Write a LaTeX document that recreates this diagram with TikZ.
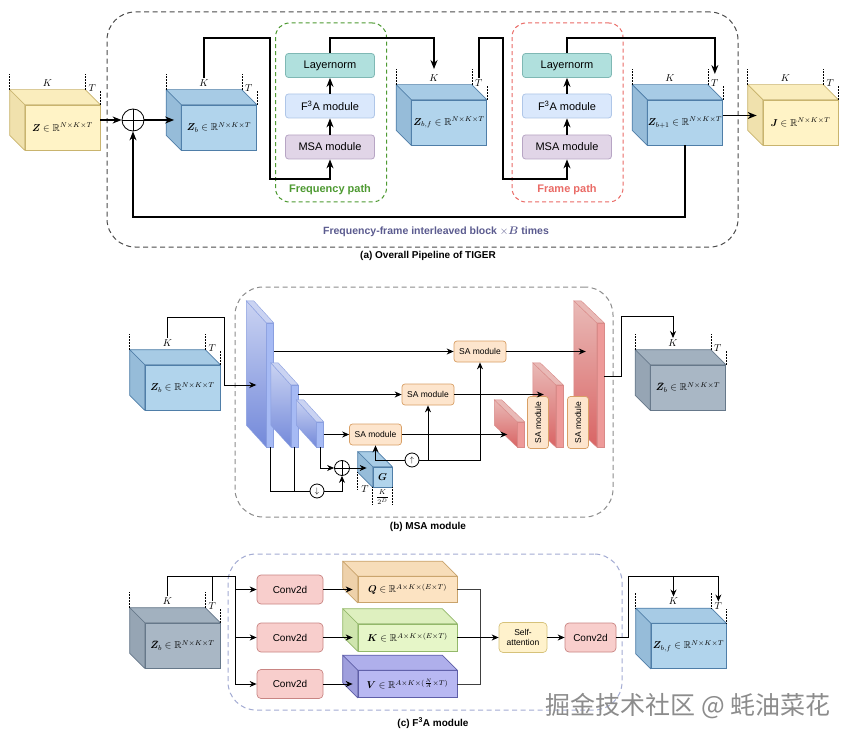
\documentclass[tikz,border=0pt]{standalone}
\usepackage{fontspec}
\setmainfont{Liberation Sans}
\newfontfamily\cjkfont{Noto Sans CJK SC}
\usepackage{amsmath,amssymb,bm}
\usepackage{tikz}
\usetikzlibrary{arrows.meta, calc, positioning, shapes.geometric, fit}
\usepackage{xcolor}

\definecolor{cubeblue}{HTML}{B1D4EC}
\definecolor{cubeblueline}{HTML}{4F7EA8}
\definecolor{cubeyellow}{HTML}{FFF3C6}
\definecolor{cubeyellowline}{HTML}{C9B46E}
\definecolor{cubegray}{HTML}{A9B7C5}
\definecolor{cubegrayline}{HTML}{66788A}
\definecolor{cubeorange}{HTML}{FCE3C2}
\definecolor{cubeorangeline}{HTML}{C9A36B}
\definecolor{cubegreen}{HTML}{E6F6C8}
\definecolor{cubegreenline}{HTML}{93B86A}
\definecolor{cubepurple}{HTML}{B8B8F2}
\definecolor{cubepurpleline}{HTML}{5E5EA8}
\definecolor{slabbluelight}{HTML}{CAD3F2}
\definecolor{slabbluedark}{HTML}{7389DA}
\definecolor{slabbluefront}{HTML}{A6BAF4}
\definecolor{slabblueline}{HTML}{8A9FE0}
\definecolor{slabredlight}{HTML}{E9BAB7}
\definecolor{slabreddark}{HTML}{D96464}
\definecolor{slabredfront}{HTML}{EE9A99}
\definecolor{slabredline}{HTML}{D98A88}
\definecolor{lnteal}{HTML}{B0E0DD}
\definecolor{lntealline}{HTML}{7FB8B4}
\definecolor{fablue}{HTML}{DAE8FC}
\definecolor{fablueline}{HTML}{AFC6E8}
\definecolor{msapurple}{HTML}{E1D5E7}
\definecolor{msapurpleline}{HTML}{B7A5C4}
\definecolor{safill}{HTML}{FDE5CD}
\definecolor{saline}{HTML}{D9A066}
\definecolor{convfill}{HTML}{F8CECC}
\definecolor{convline}{HTML}{C98583}
\definecolor{attfill}{HTML}{FFF2CC}
\definecolor{attline}{HTML}{D6C27A}
\definecolor{freqgreen}{HTML}{4E9A32}
\definecolor{framered}{HTML}{EA6B66}
\definecolor{blocktext}{HTML}{5B5B8F}
\definecolor{f3aline}{HTML}{A3ABD3}

\tikzset{
  line/.style={black, line width=0.9pt},
  arr/.style={line, -{Stealth[length=7pt, width=6pt]}},
  bigarr/.style={black, line width=1.3pt, -{Stealth[length=9pt, width=7pt]}},
  dimline/.style={black, densely dotted, line width=0.5pt},
  dimlab/.style={inner sep=1pt, font=\fontsize{10}{12}\selectfont},
  cubefront/.style={draw, line width=0.7pt, inner sep=0pt, font=\fontsize{10}{12}\selectfont},
  module/.style={draw, rounded corners=3pt, line width=0.8pt, minimum width=89pt,
    minimum height=24pt, inner sep=0pt, font=\fontsize{11}{13}\selectfont},
  samod/.style={draw=saline, fill=safill, rounded corners=3pt, line width=0.7pt,
    minimum width=52pt, minimum height=21pt, inner sep=0pt, font=\fontsize{8.5}{10}\selectfont},
  convmod/.style={draw=convline, fill=convfill, rounded corners=4pt, line width=0.7pt,
    minimum width=66pt, minimum height=29pt, inner sep=0pt, font=\fontsize{10}{12}\selectfont},
  attmod/.style={draw=attline, fill=attfill, rounded corners=4pt, line width=0.7pt,
    minimum width=48pt, minimum height=30pt, inner sep=0pt, align=center,
    font=\fontsize{8.5}{10}\selectfont},
  addop/.style={circle, draw, line width=0.8pt, minimum size=22pt, inner sep=0pt,
    path picture={\draw[line width=0.6pt] (path picture bounding box.north) -- (path picture bounding box.south)
      (path picture bounding box.west) -- (path picture bounding box.east);}},
  sampleop/.style={circle, draw, line width=0.8pt, minimum size=14pt, inner sep=0pt,
    font=\fontsize{8}{8}\selectfont},
  pipebox/.style={draw=black!70, dash pattern=on 5pt off 3.5pt, line width=1pt,
    rounded corners=28pt, minimum width=631pt, minimum height=235pt},
  pathbox/.style={dash pattern=on 4pt off 3pt, line width=1pt, rounded corners=14pt,
    minimum width=111pt, minimum height=179pt},
  pathlabel/.style={font=\bfseries\fontsize{11}{13}\selectfont, inner sep=0pt},
  caption/.style={font=\bfseries\fontsize{10}{12}\selectfont, inner sep=0pt},
  blueface/.style={fill=slabbluefront, draw=slabblueline},
  blueside/.style={top color=slabbluelight, bottom color=slabbluedark, draw=slabblueline},
  bluetop/.style={fill=slabbluelight, draw=slabblueline},
  redface/.style={fill=slabredfront, draw=slabredline},
  redside/.style={top color=slabredlight, bottom color=slabreddark, draw=slabredline},
  redtop/.style={fill=slabredlight, draw=slabredline},
  slabfront/.style={minimum width=7pt, inner sep=0pt, line width=0.4pt}
}

% cube: name, front-face centre, width, height, colour, label
\newcommand{\tcube}[6]{%
  \node[cubefront, fill=#5, draw=#5line, minimum width=#3, minimum height=#4] (#1) at (#2) {#6};
  \filldraw[fill=#5!90!#5line, draw=#5line, line width=0.7pt, line join=round]
    (#1.north west) -- ([shift={(-15,-15)}]#1.north west) -- ([shift={(-15,-15)}]#1.north east) -- (#1.north east) -- cycle;
  \filldraw[fill=#5!72!#5line, draw=#5line, line width=0.7pt, line join=round]
    (#1.north west) -- ([shift={(-15,-15)}]#1.north west) -- ([shift={(-15,-15)}]#1.south west) -- (#1.south west) -- cycle;
}
% dotted K and T marks above a cube
\newcommand{\tdims}[1]{%
  \draw[dimline] ([shift={(-15,-15)}]#1.north west) -- ++(0,-16);
  \draw[dimline] ([shift={(-15,-15)}]#1.north east) -- ++(0,-16);
  \draw[dimline] (#1.north east) -- ++(0,-15);
  \node[dimlab] (#1k) at ([shift={(-15,-22)}]#1.north) {$K$};
  \node[dimlab] (#1t) at ([shift={(-8,-17)}]#1.north east) {$T$};
}
% slab: name, front-face centre, height, colour, depth
\newcommand{\tslab}[5]{%
  \node[slabfront, #4face, minimum height=#3] (#1) at (#2) {};
  \path[#4side, line width=0.4pt] (#1.north west) -- ([shift={(#5)}]#1.north west)
    -- ([shift={(#5)}]#1.south west) -- (#1.south west) -- cycle;
  \path[#4top, line width=0.4pt] (#1.north west) -- ([shift={(#5)}]#1.north west)
    -- ([shift={(#5)}]#1.north east) -- (#1.north east) -- cycle;
}

\begin{document}
\begin{tikzpicture}[x=1pt, y=-1pt]
  \useasboundingbox (0,0) rectangle (852,741);
  \fill[white] (0,0) rectangle (852,741);

  % (a) overall pipeline
  \node[pipebox] (blocka) at (422.5,129.5) {};
  \node[pathbox, draw=freqgreen] (fpath) at (331,112.5) {};
  \node[pathbox, draw=framered] (tpath) at (567.5,112.5) {};

  \tcube{z}{62.5,127.5}{75pt}{45pt}{cubeyellow}{$\bm{Z}\in\mathbb{R}^{N\times K\times T}$}
  \tdims{z}
  \node[addop] (add) at (133,120) {};
  \tcube{zb}{219,127.5}{75pt}{45pt}{cubeblue}{$\bm{Z}_b\in\mathbb{R}^{N\times K\times T}$}
  \tdims{zb}
  \tcube{zbf}{449,122.5}{75pt}{45pt}{cubeblue}{$\bm{Z}_{b,f}\in\mathbb{R}^{N\times K\times T}$}
  \tdims{zbf}
  \tcube{zbn}{685,122.5}{75pt}{45pt}{cubeblue}{$\bm{Z}_{b+1}\in\mathbb{R}^{N\times K\times T}$}
  \tdims{zbn}
  \tcube{j}{800.5,122.5}{75pt}{45pt}{cubeyellow}{$\bm{J}\in\mathbb{R}^{N\times K\times T}$}
  \tdims{j}

  \node[module, fill=lnteal, draw=lntealline] (ln1) at (330,65.5) {Layernorm};
  \node[module, fill=fablue, draw=fablueline] (fa1) at (330,106) {F\textsuperscript{3}A module};
  \node[module, fill=msapurple, draw=msapurpleline] (msa1) at (330,147) {MSA module};
  \node[pathlabel, text=freqgreen] (flab) at (330,190) {Frequency path};
  \node[module, fill=lnteal, draw=lntealline] (ln2) at (567,65.5) {Layernorm};
  \node[module, fill=fablue, draw=fablueline] (fa2) at (567,106) {F\textsuperscript{3}A module};
  \node[module, fill=msapurple, draw=msapurpleline] (msa2) at (567,147) {MSA module};
  \node[pathlabel, text=framered] (tlab) at (567,190) {Frame path};

  \coordinate (toprail) at (0,38);
  \coordinate (fturn) at (270,179);
  \coordinate (tturn) at (503,179);
  \coordinate (backrail) at (0,217);

  \draw[bigarr] (z.east |- add) -- (add.west);
  \draw[bigarr] (add.east) -- ($(zb.west |- add)+(-7,0)$);
  \draw[bigarr] (zbk.north) |- (toprail -| fturn) -- (fturn) -| (msa1.south);
  \draw[bigarr] (msa1) -- (fa1);
  \draw[bigarr] (fa1) -- (ln1);
  \draw[bigarr] (ln1.north) |- (toprail -| zbfk) -- ([yshift=4pt]zbfk.north);
  \draw[bigarr] (zbft.north) |- (toprail -| tturn) -- (tturn) -| (msa2.south);
  \draw[bigarr] (msa2) -- (fa2);
  \draw[bigarr] (fa2) -- (ln2);
  \draw[bigarr] (ln2.north) |- (toprail -| zbnt) -- ([yshift=4pt]zbnt.north);
  \draw[bigarr] ([yshift=7pt]zbn.east) -- ($(j.west)+(-6,-7)$);
  \draw[bigarr] (zbn.south) |- (backrail -| add) -- (add.south);

  \node[font=\bfseries\fontsize{10.5}{12}\selectfont, text=blocktext] (blab) at (436,232)
    {Frequency-frame interleaved block $\times\bm{B}$ times};
  \node[caption] (capa) at (428,256) {(a) Overall Pipeline of TIGER};

  % (b) MSA module
  \node[pipebox, draw=black!45, minimum width=378pt, minimum height=230pt] (blockb) at (424,402) {};
  \tcube{zbb}{182.5,387.5}{75pt}{45pt}{cubeblue}{$\bm{Z}_b\in\mathbb{R}^{N\times K\times T}$}
  \tdims{zbb}

  \tslab{e1}{270,385}{124pt}{blue}{-20,-22}
  \tslab{e2}{294.5,416}{62pt}{blue}{-20,-22}
  \tslab{e3}{320,434.5}{25pt}{blue}{-20,-22}

  \node[samod] (sa1) at (480,351.5) {SA module};
  \node[samod] (sa2) at (428,394.5) {SA module};
  \node[samod] (sa3) at (375.5,434.5) {SA module};

  \tslab{d3}{521,434.5}{25pt}{red}{-23,-22}
  \tslab{d2}{559.5,416}{62pt}{red}{-23,-22}
  \node[samod, rotate=90] (sa4) at (538,422.5) {SA module};
  \tslab{d1}{600.5,385}{124pt}{red}{-23,-22}
  \node[samod, rotate=90] (sa5) at (578,422.5) {SA module};

  \tcube{g}{382.5,477}{19pt}{20pt}{cubeblue}{$\bm{G}$}
  \draw[dimline] ([shift={(-15,-15)}]g.south west) -- ++(0,18);
  \node[dimlab] (gt) at (365,489) {$T$};
  \draw[dimline] (g.south west) -- ++(0,17);
  \draw[dimline] (g.south east) -- ++(0,17);
  \node[dimlab, font=\fontsize{7.5}{9}\selectfont] (gk) at (382.5,497) {$\dfrac{K}{2^{D}}$};

  \node[sampleop] (down) at (317,491) {$\downarrow$};
  \node[addop, minimum size=15pt] (add2) at (342,468) {};
  \node[sampleop] (up) at (412,460) {$\uparrow$};

  \draw[arr] (zbbk.north) |- ++(57,-21) |- ($(e1.west)+(-10,0)$);
  \draw[arr] (e1.east |- sa1) -- (sa1.west);
  \draw[arr] (sa1.east) -- ($(d1.west |- sa1)+(-11,0)$);
  \draw[arr] (e2.east |- sa2) -- (sa2.west);
  \draw[arr] (sa2.east) -- ($(d2.west |- sa2)+(-12,0)$);
  \draw[arr] (e3.east |- sa3) -- (sa3.west);
  \draw[arr] (sa3.east) -- ($(d3.west |- sa3)+(-10,0)$);
  \draw[line] (e1.south) |- (down.west);
  \draw[line] (e2.south) -- (e2.south |- down);
  \draw[arr] (down.east) -| (add2.south);
  \draw[arr] (e3.south) |- (add2.west);
  \draw[arr] (add2.east) -- ($(g.west |- add2)+(-6,0)$);
  \draw[arr] (up.west) -| (sa3.south);
  \draw[arr] (up.east) -| (sa1.south);
  \draw[arr] (up.east -| sa2) -- (sa2.south);

  \tcube{zbar}{688,387.5}{75pt}{45pt}{cubegray}{$\bar{\bm{Z}}_b\in\mathbb{R}^{N\times K\times T}$}
  \tdims{zbar}
  \draw[arr] ([yshift=9pt]d1.east) -| ++(17,-60) -| (zbark.north);

  \node[caption] (capb) at (428,527) {(b) MSA module};

  % (c) F3A module
  \node[pipebox, draw=f3aline, minimum width=394pt, minimum height=156pt] (blockc) at (425,632) {};
  \tcube{zbc}{182.5,645.5}{75pt}{45pt}{cubegray}{$\bar{\bm{Z}}_b\in\mathbb{R}^{N\times K\times T}$}
  \tdims{zbc}

  \node[convmod] (cv1) at (290,589.5) {Conv2d};
  \node[convmod] (cv2) at (290,637.5) {Conv2d};
  \node[convmod] (cv3) at (290,684) {Conv2d};
  \tcube{q}{407.5,589.5}{99pt}{26pt}{cubeorange}{$\bm{Q}\in\mathbb{R}^{A\times K\times(E\times T)}$}
  \tcube{k}{407.5,637.5}{99pt}{27pt}{cubegreen}{$\bm{K}\in\mathbb{R}^{A\times K\times(E\times T)}$}
  \tcube{v}{407.5,684}{99pt}{27pt}{cubepurple}{$\bm{V}\in\mathbb{R}^{A\times K\times(\frac{N}{A}\times T)}$}
  \node[attmod] (att) at (523,637.5) {Self-\\attention};
  \node[convmod, minimum width=51pt] (cv4) at (590.5,637.5) {Conv2d};
  \tcube{zbfc}{688.5,646}{75pt}{45pt}{cubeblue}{$\bm{Z}_{b,f}\in\mathbb{R}^{N\times K\times T}$}
  \tdims{zbfc}

  \coordinate (split) at (235,576);
  \coordinate (merge) at (480,637.5);
  \draw[line] (zbct.north) -- (zbct.north |- split);
  \draw[arr] (zbck.north) |- (split) |- (cv1.west);
  \draw[arr] (split) |- (cv2.west);
  \draw[arr] (split) |- (cv3.west);
  \draw[arr] (cv1.east) -- ($(q.west)+(-5,0)$);
  \draw[arr] (cv2.east) -- ($(k.west)+(-5,0)$);
  \draw[arr] (cv3.east) -- ($(v.west)+(-5,0)$);
  \draw[line, black!75] (q.east) -| (merge);
  \draw[line, black!75] (v.east) -| (merge);
  \draw[arr] (k.east) -- (att.west);
  \draw[arr] (att) -- (cv4);
  \coordinate (outc) at ($(cv4.east)+(12,-61)$);
  \draw[arr] (cv4.east) -| (outc) -| (zbfct.north);
  \draw[arr] (outc -| zbfck) -- (zbfck.north);

  \node[caption] (capc) at (433,723) {(c) F\textsuperscript{3}A module};
  \node[text=black!45, font=\fontsize{25}{28}\selectfont\cjkfont, inner sep=0pt] (wmark) at (688,706)
    {掘金技术社区 @ 蚝油菜花};
\end{tikzpicture}
\end{document}
